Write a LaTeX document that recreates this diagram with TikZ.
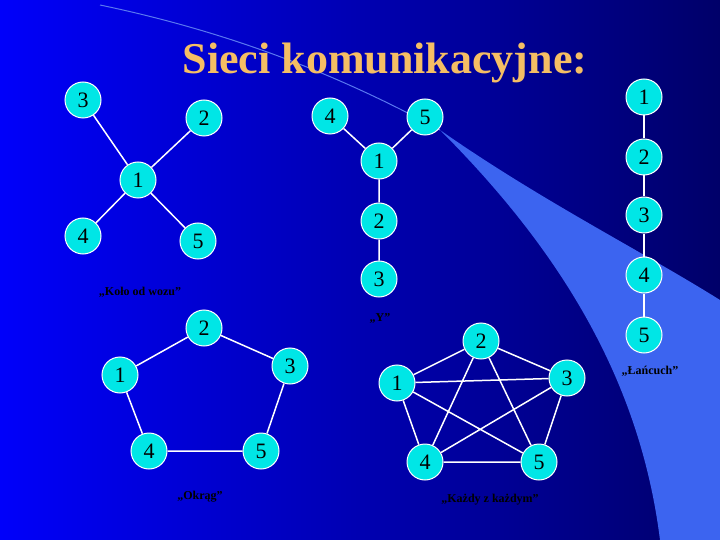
\documentclass[tikz,border=0pt]{standalone}
\usepackage{fontspec}
\setmainfont{Liberation Serif}
\definecolor{nodecyan}{RGB}{0,230,230}
\definecolor{bgleft}{RGB}{0,0,250}
\definecolor{bgright}{RGB}{0,0,105}
\definecolor{band}{RGB}{60,100,240}
\definecolor{bandline}{RGB}{90,120,240}
\definecolor{titlec}{RGB}{245,190,100}
\begin{document}
\begin{tikzpicture}[x=1pt,y=-1pt,
  nd/.style={circle,fill=nodecyan,draw=white,line width=1pt,minimum size=36pt,inner sep=0pt,font=\fontsize{22}{22}\selectfont},
  ed/.style={draw=white,line width=1.5pt},
  lab/.style={font=\bfseries\fontsize{12}{12}\selectfont,text=black}]
\useasboundingbox (0,0) rectangle (720,540);
\shade[left color=bgleft,right color=bgright] (0,0) rectangle (720,540);
\fill[band] (440,130) .. controls (540,200) and (640,250) .. (720,300) -- (720,540) -- (660,540) .. controls (640,380) and (560,250) .. (440,130) -- cycle;
\draw[bandline,line width=1pt] (100,5) .. controls (220,30) and (330,70) .. (440,130);
\node[font=\bfseries\fontsize{44}{44}\selectfont,text=titlec] (title) at (385,63) {Sieci komunikacyjne:};
% Wheel
\node[nd] (w3) at (83,100) {3};
\node[nd] (w2) at (204,118) {2};
\node[nd] (w1) at (138,180) {1};
\node[nd] (w4) at (83,236) {4};
\node[nd] (w5) at (198,241) {5};
\foreach \n in {w2,w3,w4,w5} \draw[ed] (w1) -- (\n);
\node[lab] (wl) at (140,292) {„Koło od wozu”};
% Y
\node[nd] (y4) at (330,116) {4};
\node[nd] (y5) at (425,117) {5};
\node[nd] (y1) at (379,161) {1};
\node[nd] (y2) at (379,221) {2};
\node[nd] (y3) at (379,279) {3};
\draw[ed] (y4) -- (y1) (y5) -- (y1) (y1) -- (y2) (y2) -- (y3);
\node[lab] (yl) at (380,318) {„Y”};
% Chain
\node[nd] (c1) at (644,97) {1};
\node[nd] (c2) at (644,157) {2};
\node[nd] (c3) at (644,215) {3};
\node[nd] (c4) at (644,275) {4};
\node[nd] (c5) at (644,335) {5};
\draw[ed] (c1) -- (c2) (c2) -- (c3) (c3) -- (c4) (c4) -- (c5);
\node[lab] (cl) at (650,371) {„Łańcuch”};
% Circle
\node[nd] (o2) at (204,328) {2};
\node[nd] (o3) at (290,366) {3};
\node[nd] (o1) at (120,375) {1};
\node[nd] (o4) at (149,451) {4};
\node[nd] (o5) at (261,451) {5};
\draw[ed] (o2) -- (o3) (o3) -- (o5) (o5) -- (o4) (o4) -- (o1) (o1) -- (o2);
\node[lab] (ol) at (200,497) {„Okrąg”};
% Complete
\node[nd] (k2) at (481,341) {2};
\node[nd] (k3) at (567,378) {3};
\node[nd] (k1) at (397,383) {1};
\node[nd] (k4) at (425,462) {4};
\node[nd] (k5) at (539,462) {5};
\draw[ed] (k1) -- (k2) (k1) -- (k3) (k1) -- (k4) (k1) -- (k5) (k2) -- (k3) (k2) -- (k4) (k2) -- (k5) (k3) -- (k4) (k3) -- (k5) (k4) -- (k5);
\node[lab] (kl) at (490,500) {„Każdy z każdym”};
\end{tikzpicture}
\end{document}
